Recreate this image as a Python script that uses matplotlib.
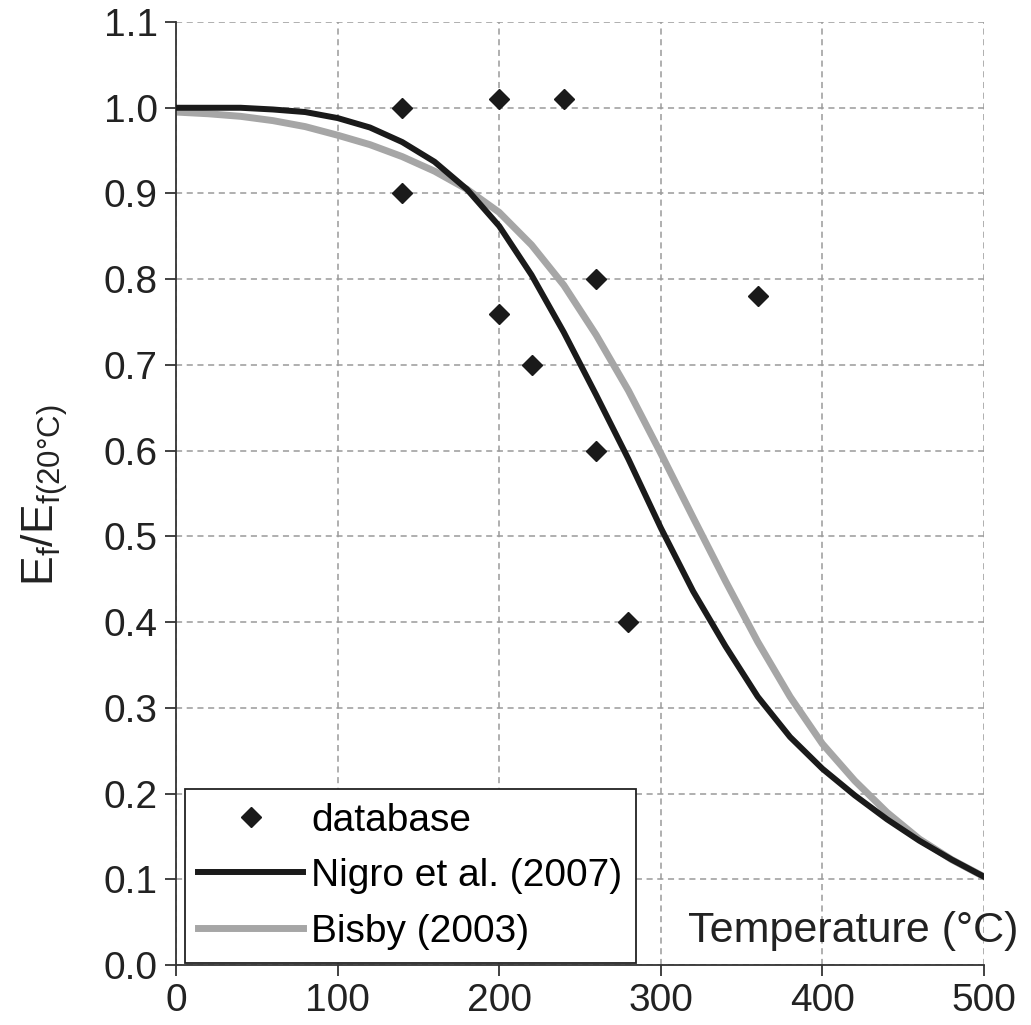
import numpy as np
import matplotlib.pyplot as plt

plt.rcParams['font.family'] = ['Liberation Sans', 'DejaVu Sans']
plt.rcParams['mathtext.fontset'] = 'custom'
plt.rcParams['mathtext.rm'] = 'Liberation Sans'

# database points
db_T = [140, 140, 200, 240, 260, 200, 220, 260, 280, 360]
db_E = [1.00, 0.90, 1.01, 1.01, 0.80, 0.76, 0.70, 0.60, 0.40, 0.78]

# curves
T_curve = [0, 20, 40, 60, 80, 100, 120, 140, 160, 180, 200, 220, 240, 260,
           280, 300, 320, 340, 360, 380, 400, 420, 440, 460, 480, 500]
nigro = [1.000, 1.000, 1.000, 0.998, 0.995, 0.988, 0.977, 0.960, 0.937, 0.905,
         0.862, 0.805, 0.738, 0.665, 0.590, 0.510, 0.436, 0.372, 0.313, 0.266,
         0.229, 0.198, 0.170, 0.145, 0.123, 0.103]
bisby = [0.995, 0.993, 0.990, 0.985, 0.978, 0.968, 0.957, 0.943, 0.926, 0.905,
         0.878, 0.840, 0.793, 0.735, 0.670, 0.597, 0.522, 0.448, 0.377, 0.313,
         0.258, 0.215, 0.178, 0.147, 0.123, 0.103]

fig = plt.figure(figsize=(10.31, 10.25), dpi=100)
ax = fig.add_axes([0.1707, 0.0585, 0.7837, 0.92])

ax.plot(db_T, db_E, 'D', color='#1a1a1a', markersize=10.5, label='database', zorder=4)
ax.plot(T_curve, nigro, color='#1a1a1a', lw=4.3, label='Nigro et al. (2007)',
        zorder=3, solid_joinstyle='round')
ax.plot(T_curve, bisby, color='#a6a6a6', lw=5, label='Bisby (2003)',
        zorder=2, solid_joinstyle='round')

ax.set_xlim(0, 500)
ax.set_ylim(0, 1.1)
ax.set_xticks(np.arange(0, 501, 100))
ax.set_yticks(np.arange(0, 1.11, 0.1))
ax.set_yticklabels(['%.1f' % v for v in np.arange(0, 1.11, 0.1)])
ax.grid(True, color='#9a9a9a', ls=(0, (4, 3)), lw=1.1)
ax.set_axisbelow(True)
for s in ['top', 'right']:
    ax.spines[s].set_visible(False)
for s in ['left', 'bottom']:
    ax.spines[s].set_linewidth(1.3)
    ax.spines[s].set_color('#333333')
ax.tick_params(direction='out', length=8, width=1.3, labelsize=28, colors='#333333',
               labelcolor='#222222', pad=5)

fig.text(45 / 1031, 1 - 495 / 1025, r'E$_\mathregular{f}$/E$_\mathregular{f(20°C)}$',
         fontsize=32, color='#222222', rotation=90, ha='center', va='center')
fig.text(1018 / 1031, 1 - 931 / 1025, 'Temperature (°C)', fontsize=31,
         ha='right', va='center', color='#222222')

leg = ax.legend(loc='lower left', bbox_to_anchor=(0.011, 0.002), fontsize=28,
                frameon=True, fancybox=False, borderaxespad=0, handlelength=2.7,
                borderpad=0.35, labelspacing=0.5, handletextpad=0.2)
leg.get_frame().set_edgecolor('#222222')
leg.get_frame().set_linewidth(1.3)
leg.get_frame().set_alpha(1)

fig.savefig('out.png', dpi=100)
